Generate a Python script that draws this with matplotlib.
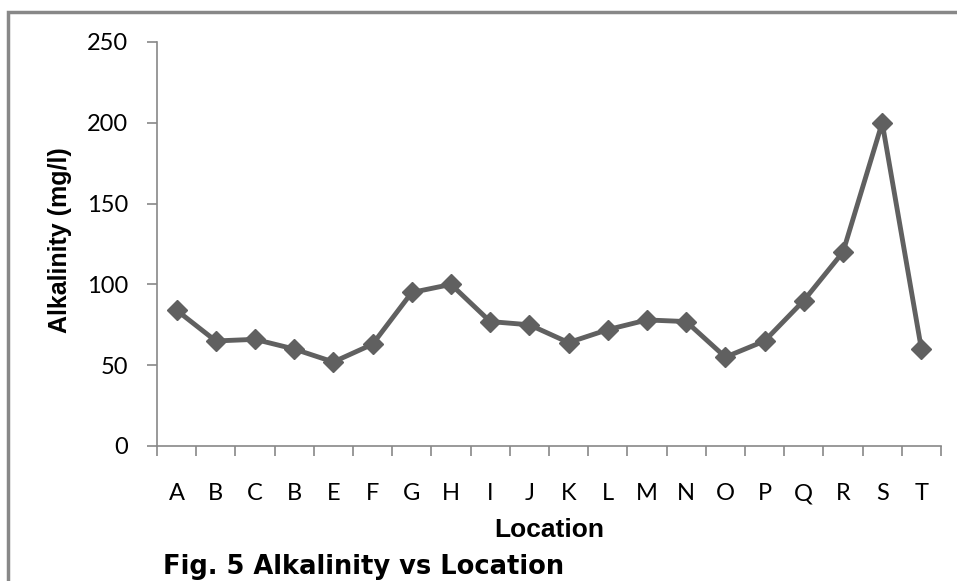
import matplotlib
matplotlib.use("Agg")
import matplotlib.pyplot as plt
from matplotlib.patches import Rectangle

locations = ["A", "B", "C", "B", "E", "F", "G", "H", "I", "J", "K", "L", "M", "N", "O", "P", "Q", "R", "S", "T"]
alkalinity = [84, 65, 66, 60, 52, 63, 95, 100, 77, 75, 64, 72, 78, 77, 55, 65, 90, 120, 200, 60]
y_ticks = [0, 50, 100, 150, 200, 250]

plt.rcParams['font.family'] = ['Lato', 'DejaVu Sans']

fig = plt.figure(figsize=(9.57, 5.81), dpi=100)
ax = fig.add_axes([157/957, 1 - 446/581, (941 - 157)/957, (446 - 42)/581])

x = list(range(len(locations)))
ax.plot(x, alkalinity, color='#606060', lw=3.5, marker='D', markersize=10,
        markerfacecolor='#606060', markeredgecolor='#606060', solid_joinstyle='round')

ax.set_xlim(-0.5, len(locations) - 0.5)
ax.set_ylim(0, 250)
ax.set_yticks(y_ticks)
ax.set_yticklabels([str(v) for v in y_ticks], fontsize=17)
ax.set_xticks(x)
ax.set_xticklabels(locations, fontsize=17)
ax.set_xticks([i - 0.5 for i in range(len(locations) + 1)], minor=True)
ax.tick_params(axis='x', which='major', length=0, pad=27)
ax.tick_params(axis='x', which='minor', length=7, color='#888888', width=1.2, direction='out')
ax.tick_params(axis='y', length=7, color='#888888', width=1.2, direction='out', pad=14)

for s in ['top', 'right']:
    ax.spines[s].set_visible(False)
for s in ['left', 'bottom']:
    ax.spines[s].set_color('#888888')
    ax.spines[s].set_linewidth(1.2)

ax.set_ylabel("Alkalinity (mg/l)", fontsize=18, fontweight='bold',
              family=['Liberation Sans', 'DejaVu Sans'])
ax.yaxis.set_label_coords((72 - 157) / 784, 0.51)
ax.set_xlabel("Location", fontsize=19, fontweight='bold', labelpad=10,
              family=['Liberation Sans', 'DejaVu Sans'])

# outer border (chart area frame)
fig.patches.append(Rectangle((8/957, -0.1), 1.2, 1 - 12/581 + 0.1, transform=fig.transFigure,
                             fill=False, edgecolor='#888888', lw=2.5))

fig.text(163/957, 1 - 567/581, "Fig. 5 Alkalinity vs Location", fontsize=18.5,
         fontweight='heavy', ha='left', va='center', family=['DejaVu Sans'])

fig.savefig("out.png", dpi=100)
